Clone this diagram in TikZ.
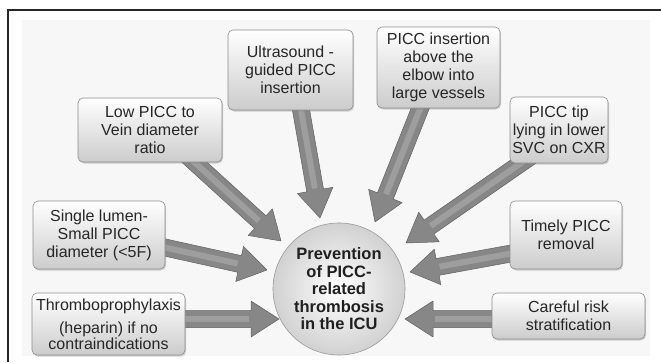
\documentclass[tikz,border=0pt]{standalone}
\usepackage{fontspec}
\setmainfont{Liberation Sans}
\usetikzlibrary{calc,shadows}
\pgfdeclarelayer{back}
\pgfdeclarelayer{bg}
\pgfsetlayers{back,bg,main}

\tikzset{
 box/.style={draw=black!45, line width=0.6pt, rounded corners=5pt,
   top color=white, bottom color=black!20,
   drop shadow={shadow xshift=1pt, shadow yshift=-1.5pt, opacity=0.35},
   align=center, font=\fontsize{16}{18}\selectfont, text=black!85, inner sep=0pt},
 hub/.style={circle, draw=black!40, line width=0.6pt, inner color=white, outer color=black!18,
   minimum size=132pt, align=center, font=\bfseries\fontsize{16.5}{17.5}\selectfont,
   text=black!88, inner sep=0pt},
 arrowbody/.style={fill=black!47, draw=black!62, line width=0.5pt, line join=round},
 arrowlight/.style={draw=black!38, line width=6pt},
}

\newcommand\blockarrow[2]{%
  \path let \p1=(#1), \p2=(#2) in \pgfextra{%
    \pgfmathsetmacro\baAng{atan2(\y2-\y1,\x2-\x1)}%
    \pgfmathsetmacro\baLen{veclen(\x2-\x1,\y2-\y1)}%
    \xdef\baA{\baAng}\xdef\baL{\baLen}};
  \begin{scope}[shift={(#1)}, rotate=\baA, x=1pt, y=1pt]
    \path[arrowbody] (0,-8.5) -- (\baL-28,-8.5) -- (\baL-28,-18) -- (\baL,0)
      -- (\baL-28,18) -- (\baL-28,8.5) -- (0,8.5) -- cycle;
    \draw[arrowlight] (0,0) -- (\baL-30,0);
  \end{scope}}

\begin{document}
\begin{tikzpicture}[x=1pt, y=-1pt]
\useasboundingbox (0,0) rectangle (661,362);
\begin{pgfonlayer}{back}
  \fill[black!3] (22,20) rectangle (650,356);
\end{pgfonlayer}
\draw[line width=1.2pt, black!85] (8,362) -- (8,10) -- (661,10);

\node[hub] (hub) at (339,289) {Prevention\\of PICC-\\related\\thrombosis\\in the ICU};

\node[box, minimum width=144pt, minimum height=64pt] (low) at (150,130) {Low PICC to\\Vein diameter\\ratio};
\node[box, minimum width=125pt, minimum height=80pt] (us) at (290.5,70) {Ultrasound -\\guided PICC\\insertion};
\node[box, minimum width=123pt, minimum height=81pt] (elbow) at (438.5,67.5) {PICC insertion\\above the\\elbow into\\large vessels};
\node[box, minimum width=98pt, minimum height=66pt] (tip) at (559,130) {PICC tip\\lying in lower\\SVC on CXR};
\node[box, minimum width=132pt, minimum height=68pt] (single) at (99,235) {Single lumen-\\Small PICC\\diameter (<5F)};
\node[box, minimum width=153pt, minimum height=62pt] (thrombo) at (108.5,324) {Thromboprophylaxis\\[5pt](heparin) if no\\[-2pt]contraindications};
\node[box, minimum width=112pt, minimum height=68pt] (timely) at (566,235) {Timely PICC\\removal};
\node[box, minimum width=153pt, minimum height=46pt] (careful) at (568.5,316) {Careful risk\\stratification};

\coordinate (s1) at ($(low.center)+(20,10)$);
\coordinate (s2) at ($(us.center)+(7,20)$);
\coordinate (s3) at ($(elbow.center)+(-10,20)$);
\coordinate (s4) at ($(tip.center)+(-19,20)$);
\coordinate (s5) at ($(single.center)+(41,7)$);
\coordinate (s6) at ($(thrombo.center)+(61,-5)$);
\coordinate (s7) at ($(timely.center)+(-36,15)$);
\coordinate (s8) at ($(careful.center)+(-58,3)$);
\coordinate (t1) at (281,241);
\coordinate (t2) at (320,218);
\coordinate (t3) at (375,222);
\coordinate (t4) at (406,243);
\coordinate (t5) at (267,270);
\coordinate (t6) at (279,319);
\coordinate (t7) at (410,272);
\coordinate (t8) at (405,319);

\begin{pgfonlayer}{bg}
  \blockarrow{s1}{t1}
  \blockarrow{s2}{t2}
  \blockarrow{s3}{t3}
  \blockarrow{s4}{t4}
  \blockarrow{s5}{t5}
  \blockarrow{s6}{t6}
  \blockarrow{s7}{t7}
  \blockarrow{s8}{t8}
\end{pgfonlayer}
\end{tikzpicture}
\end{document}
